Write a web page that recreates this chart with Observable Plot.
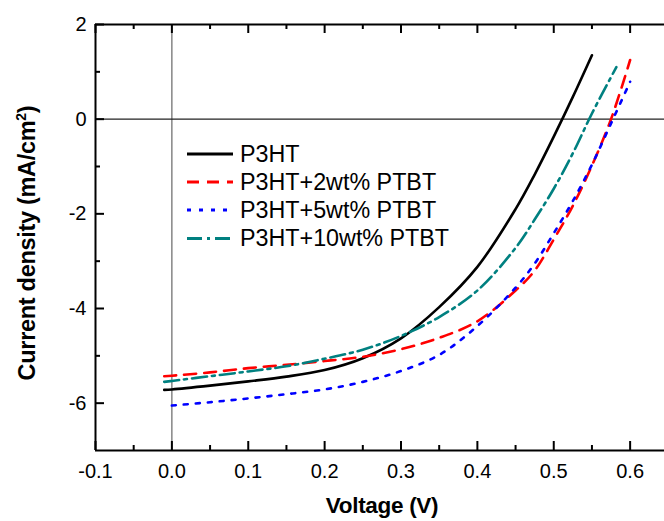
<!DOCTYPE html>
<html><head><meta charset="utf-8">
<script src="https://cdn.jsdelivr.net/npm/d3@7"></script>
<script src="https://cdn.jsdelivr.net/npm/@observablehq/plot@0.6"></script>
<style>
body{margin:0;background:#fff;}
#chart{position:relative;width:664px;height:521px;}
</style></head><body><div id="chart"></div>
<script>
// ---- data ----
const seriesNames = ["P3HT", "P3HT+2wt% PTBT", "P3HT+5wt% PTBT", "P3HT+10wt% PTBT"];
const seriesColors = ["#000000", "#ff0000", "#0000ff", "#008080"];
const seriesDash = [null, "12,8", "4,8", "15,5,3,5"];

const vP3HT = [-0.01, 0.0, 0.05, 0.1, 0.15, 0.2, 0.25, 0.3, 0.35, 0.4, 0.45, 0.475, 0.5, 0.525, 0.55];
const jP3HT = [-5.72, -5.71, -5.63, -5.54, -5.44, -5.3, -5.05, -4.63, -3.97, -3.12, -1.9, -1.17, -0.37, 0.47, 1.35];

const v2wt = [-0.01, 0.0, 0.05, 0.1, 0.15, 0.2, 0.25, 0.3, 0.35, 0.4, 0.45, 0.475, 0.5, 0.525, 0.55, 0.575, 0.6];
const j2wt = [-5.43, -5.42, -5.35, -5.26, -5.19, -5.11, -5.02, -4.86, -4.62, -4.27, -3.62, -3.2, -2.54, -1.83, -0.98, 0.0, 1.25];

const v5wt = [0.0, 0.05, 0.1, 0.15, 0.2, 0.25, 0.3, 0.35, 0.4, 0.45, 0.475, 0.5, 0.525, 0.55, 0.575, 0.6];
const j5wt = [-6.05, -5.98, -5.9, -5.81, -5.71, -5.55, -5.32, -4.98, -4.37, -3.56, -3.05, -2.41, -1.73, -0.96, -0.09, 0.79];

const v10wt = [-0.01, 0.0, 0.05, 0.1, 0.15, 0.2, 0.25, 0.3, 0.35, 0.4, 0.45, 0.475, 0.5, 0.525, 0.55, 0.582];
const j10wt = [-5.55, -5.53, -5.43, -5.33, -5.22, -5.06, -4.87, -4.58, -4.18, -3.62, -2.72, -2.12, -1.47, -0.72, 0.12, 1.1];

const xMajor = [-0.1, 0.0, 0.1, 0.2, 0.3, 0.4, 0.5, 0.6];
const xMinor = [-0.05, 0.05, 0.15, 0.25, 0.35, 0.45, 0.55];
const yMajor = [2, 0, -2, -4, -6];
const yMinor = [1, -1, -3, -5];

const xDomain = [-0.1, 0.645];
const yDomain = [-7, 2];

// ---- build ----
const vs = [vP3HT, v2wt, v5wt, v10wt];
const js = [jP3HT, j2wt, j5wt, j10wt];
const series = seriesNames.map((name, i) => vs[i].map((v, k) => ({name, v, j: js[i][k]})));

const W = 664, H = 521, mL = 95, mR = 0, mT = 24, mB = 71;
const fH = H - mT - mB, fW = W - mL - mR;

const lineMarks = series.map((d, i) => Plot.line(d, {
  x: "v", y: "j", stroke: seriesColors[i], strokeWidth: 2.6,
  strokeDasharray: seriesDash[i] || undefined, curve: "catmull-rom"
}));

const chart = Plot.plot({
  width: W, height: H,
  marginLeft: mL, marginRight: mR, marginTop: mT, marginBottom: mB,
  style: {fontFamily: "'Liberation Sans', Arial, sans-serif", fontSize: "20px", color: "#000", background: "#fff"},
  x: {domain: xDomain, axis: null},
  y: {domain: yDomain, axis: null},
  marks: [
    Plot.ruleX([0], {stroke: "#666", strokeWidth: 1.2}),
    Plot.ruleY([0], {stroke: "#222", strokeWidth: 1.2}),
    ...lineMarks,
    // frame (right side is cut off in the reference)
    Plot.ruleY([yDomain[0], yDomain[1]], {stroke: "#000", strokeWidth: 2}),
    Plot.ruleX([xDomain[0]], {stroke: "#000", strokeWidth: 2}),
    // inward ticks, bottom
    Plot.tickX(xMajor, {x: d => d, insetTop: fH - 9, stroke: "#000", strokeWidth: 2}),
    Plot.tickX(xMinor, {x: d => d, insetTop: fH - 5, stroke: "#000", strokeWidth: 2}),
    // inward ticks, top
    Plot.tickX(xMajor, {x: d => d, insetBottom: fH - 9, stroke: "#000", strokeWidth: 2}),
    Plot.tickX(xMinor, {x: d => d, insetBottom: fH - 5, stroke: "#000", strokeWidth: 2}),
    // inward ticks, left
    Plot.tickY(yMajor, {y: d => d, insetRight: fW - 9, stroke: "#000", strokeWidth: 2}),
    Plot.tickY(yMinor, {y: d => d, insetRight: fW - 5, stroke: "#000", strokeWidth: 2}),
    Plot.axisX(xMajor, {anchor: "bottom", tickSize: 0, tickPadding: 13, label: null,
      tickFormat: d => d.toFixed(1), fontSize: 20}),
    Plot.axisY(yMajor, {anchor: "left", tickSize: 0, tickPadding: 9, label: null,
      tickFormat: d => String(d), fontSize: 20})
  ]
});

document.getElementById("chart").appendChild(chart);

// ---- axis titles and legend ----
const svg = d3.select(chart);
const font = "'Liberation Sans', Arial, sans-serif";

svg.append("text")
  .attr("x", 382).attr("y", 513)
  .attr("text-anchor", "middle")
  .attr("font-family", font).attr("font-weight", "bold").attr("font-size", 22.5)
  .attr("letter-spacing", -0.3)
  .text("Voltage (V)");

const yt = svg.append("text")
  .attr("transform", "translate(34.5,243) rotate(-90)")
  .attr("text-anchor", "middle")
  .attr("font-family", font).attr("font-weight", "bold").attr("font-size", 23.5)
  .attr("letter-spacing", -0.3);
yt.append("tspan").text("Current density (mA/cm");
yt.append("tspan").attr("dy", -9).attr("font-size", 14).text("2");
yt.append("tspan").attr("dy", 9).text(")");

const legRows = [154, 182, 210, 238.5];
const lg = svg.append("g").attr("text-anchor", "start");
seriesNames.forEach((name, i) => {
  lg.append("line")
    .attr("x1", 187).attr("x2", 233).attr("y1", legRows[i]).attr("y2", legRows[i])
    .attr("stroke", seriesColors[i]).attr("stroke-width", 2.8)
    .attr("stroke-dasharray", seriesDash[i] || null);
  lg.append("text")
    .attr("x", 240).attr("y", legRows[i] + 7.5)
    .attr("text-anchor", "start")
    .attr("font-family", font).attr("font-size", 23.3)
    .attr("fill", "#000")
    .text(name);
});
</script>
</body></html>
